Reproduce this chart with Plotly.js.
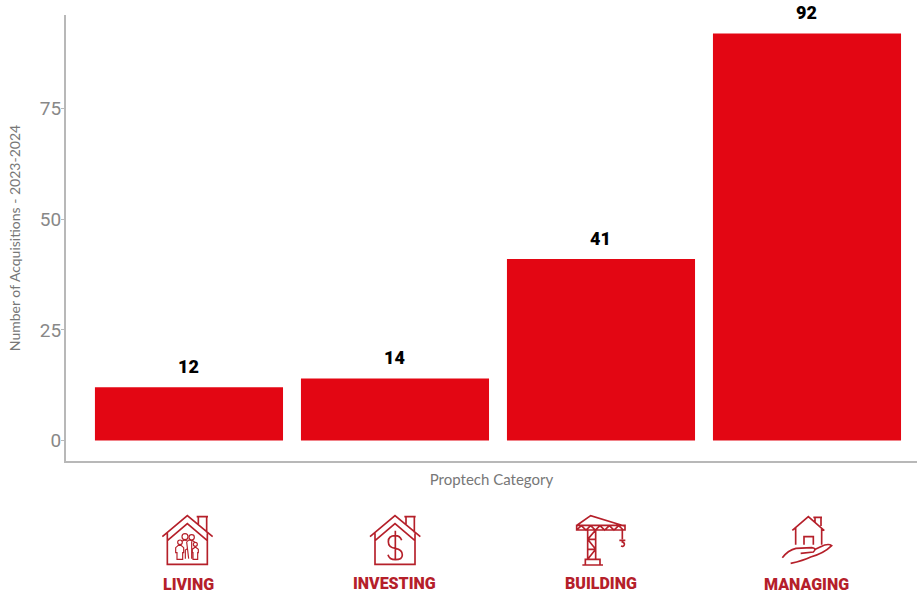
<!DOCTYPE html>
<html>
<head>
<meta charset="utf-8">
<script src="https://cdn.plot.ly/plotly-3.0.1.min.js"></script>
<style>html,body{margin:0;padding:0;background:#fff}#chart{width:917px;height:593px}</style>
</head>
<body>
<div id="chart"></div>
<script>
// Proptech acquisitions per category, 2023-2024
const categories = ['LIVING', 'INVESTING', 'BUILDING', 'MANAGING'];
const acquisitions = [12, 14, 41, 92];
const yTicks = [0, 25, 50, 75];
const labelHeights = [584, 583, 583, 584];

const W = 917, H = 593;
const M = {l: 66, r: 0, t: 15, b: 132};
const ICON_RED = '#b5202a';

// Category pictograms, drawn in a coordinate space three times the page scale
const houseShell =
  '<path d="M97 110L172 47L248 110M205 72V50H230V98M200 50H234M112 100V193H232V100M112 122L172 71L232 122"/>';
const icons = [
  {x: 90, y: 40, w: 165, h: 160, ox: 130, oy: 500, body: houseShell +
    '<g stroke-width="3.5"><circle cx="165" cy="110" r="9"/><circle cx="185" cy="112" r="8"/>' +
    '<circle cx="150" cy="127" r="7"/><circle cx="196" cy="133" r="6"/>' +
    '<path d="M155 124L165 120L172 124L176 120L188 122L194 126M170 126L176 176M166 176V150L172 146M185 176V124' +
    'M137 143V158H141V178H158V158H161V143L153 136H145ZM187 148L196 141L205 148V158H203V178H189V158H187Z"/></g>'},
  {x: 713, y: 40, w: 165, h: 160, ox: 130, oy: 500, body:
    '<g transform="translate(623 0)">' + houseShell + '</g>' +
    '<path d="M796 92V181M815 121Q810 107 796 107Q775 107 775 125Q775 142 796 145Q817 148 817 165Q817 179 796 179Q778 179 774 164"/>'},
  {x: 100, y: 40, w: 165, h: 160, ox: 540, oy: 500, body:
    '<path d="M112 75L152 47L253 78M110 76H255V90H110ZM110 90L124 77L138 90L152 77L166 90L180 77L194 90L208 77L222 90L236 77L250 90' +
    'M143 90V178M167 90V178M143 118H167M143 148H167M143 118L167 90M143 118L167 148M143 178L167 148M136 195V178H180V195M127 195H189' +
    'M247 90V118M238 121H256M247 121V126Q254 128 253 134Q251 141 243 138"/>'},
  {x: 720, y: 40, w: 165, h: 160, ox: 540, oy: 500, body:
    '<path d="M757 91L805 50L853 92M825 66V52H843V78M820 52H846M767 84V134M845 84V134M792 134V110H820V134' +
    'M727 173Q745 150 768 145L815 143Q832 145 820 156L782 160M752 190Q790 182 812 171Q852 160 875 137Q865 129 842 140L826 148"/>'}
];

function iconUri(ic) {
  const svg = '<svg xmlns="http://www.w3.org/2000/svg" width="' + ic.w + '" height="' + ic.h +
    '" viewBox="' + ic.x + ' ' + ic.y + ' ' + ic.w + ' ' + ic.h + '"><g fill="none" stroke="' + ICON_RED +
    '" stroke-width="5">' + ic.body + '</g></svg>';
  return 'data:image/svg+xml;base64,' + btoa(svg);
}

const plotW = W - M.l - M.r, plotH = H - M.t - M.b;
const images = icons.map(ic => ({
  source: iconUri(ic),
  xref: 'paper', yref: 'paper', xanchor: 'left', yanchor: 'top', sizing: 'stretch', layer: 'above',
  x: (ic.ox + ic.x / 3 - M.l) / plotW,
  y: (H - M.b - (ic.oy + ic.y / 3)) / plotH,
  sizex: (ic.w / 3) / plotW,
  sizey: (ic.h / 3) / plotH
}));

// Value labels sit well clear of the bar tops
const valueLabels = acquisitions.map((v, i) => ({
  x: i, y: v, xref: 'x', yref: 'y', text: String(v), showarrow: false, yshift: 21, yanchor: 'middle',
  font: {family: 'Roboto, "DejaVu Sans", sans-serif', size: 18, weight: 900, color: '#000'}
}));
const categoryLabels = categories.map((c, i) => ({
  x: i, xref: 'x', yref: 'paper', y: (H - M.b - labelHeights[i]) / plotH, text: c, showarrow: false,
  yanchor: 'middle',
  font: {family: 'Roboto, "Liberation Sans", sans-serif', size: 16, weight: 900, color: ICON_RED}
}));

Plotly.newPlot('chart', [{
  type: 'bar',
  x: categories.map((c, i) => i),
  y: acquisitions,
  width: 0.913,
  marker: {color: '#e30613', line: {width: 0}},
  hoverinfo: 'x+y'
}], {
  width: W, height: H, margin: M,
  paper_bgcolor: '#fff', plot_bgcolor: '#fff',
  showlegend: false,
  xaxis: {
    range: [-0.597, 3.534], showticklabels: false, ticks: '', showgrid: false, zeroline: false,
    showline: true, linecolor: '#b8b8b8', linewidth: 2,
    title: {text: 'Proptech Category', standoff: 12, font: {family: 'Lato, sans-serif', size: 15, color: '#777'}}
  },
  yaxis: {
    range: [-4.65, 96.2], tickmode: 'array', tickvals: yTicks, ticktext: yTicks.map(String),
    ticks: 'outside', ticklen: 3, tickcolor: '#b8b8b8', showgrid: false, zeroline: false,
    showline: true, linecolor: '#b8b8b8', linewidth: 2, ticklabelstandoff: -4,
    tickfont: {family: 'Roboto, sans-serif', size: 19, color: '#888'},
    title: {text: 'Number of Acquisitions - 2023-2024', standoff: 16, font: {family: 'Lato, sans-serif', size: 14, color: '#777'}}
  },
  images: images,
  annotations: valueLabels.concat(categoryLabels)
}, {displayModeBar: false, responsive: false});
</script>
</body>
</html>
